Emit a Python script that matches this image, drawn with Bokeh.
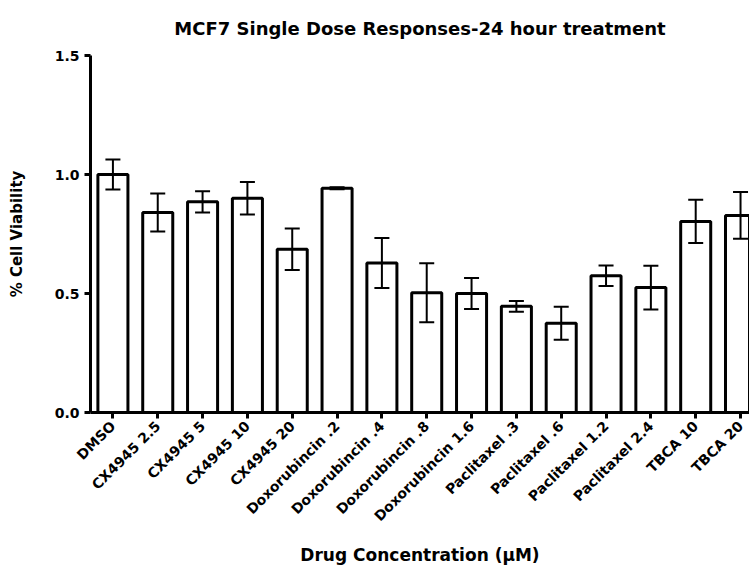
import math

from bokeh.embed import file_html
from bokeh.models import (ColumnDataSource, FixedTicker, PrintfTickFormatter,
                          Range1d, TeeHead, Whisker)
from bokeh.plotting import figure
from bokeh.resources import INLINE

# Treatments (x categories)
categories = [
    "DMSO", "CX4945 2.5", "CX4945 5", "CX4945 10", "CX4945 20",
    "Doxorubincin .2", "Doxorubincin .4", "Doxorubincin .8", "Doxorubincin 1.6",
    "Paclitaxel .3", "Paclitaxel .6", "Paclitaxel 1.2", "Paclitaxel 2.4",
    "TBCA 10", "TBCA 20",
]

# Mean viability relative to DMSO
viability = [1.00, 0.84, 0.885, 0.90, 0.686, 0.942, 0.628, 0.503, 0.50,
             0.446, 0.375, 0.575, 0.525, 0.803, 0.828]

# Error (SEM) of each mean
sem = [0.063, 0.080, 0.045, 0.068, 0.087, 0.004, 0.105, 0.124, 0.065,
       0.023, 0.069, 0.043, 0.092, 0.091, 0.098]

y_ticks = [0.0, 0.5, 1.0, 1.5]

FONT = "DejaVu Sans"

xs = list(range(len(categories)))
source = ColumnDataSource(data=dict(
    x=xs,
    top=viability,
    upper=[v + e for v, e in zip(viability, sem)],
    lower=[v - e for v, e in zip(viability, sem)],
))

p = figure(
    width=749, height=567,
    x_range=Range1d(-0.5, 14.2), y_range=Range1d(0, 1.5),
    output_backend="svg", toolbar_location=None,
    min_border_left=90, min_border_right=0,
    min_border_top=55, min_border_bottom=152,
    title="MCF7 Single Dose Responses-24 hour treatment",
)

p.title.text_font = FONT
p.title.text_font_size = "18px"
p.title.text_font_style = "bold"
p.title.text_color = "black"
p.title.align = "center"
p.title.offset = 7
p.title.standoff = 30
p.title.vertical_align = "top"

p.outline_line_color = None
p.xgrid.grid_line_color = None
p.ygrid.grid_line_color = None
p.background_fill_color = "white"
p.border_fill_color = "white"

p.vbar(x="x", top="top", width=0.67, bottom=0, source=source,
       fill_color="white", line_color="black", line_width=3)

whisker = Whisker(
    base="x", upper="upper", lower="lower", source=source,
    dimension="height", line_color="black", line_width=2, level="overlay",
    upper_head=TeeHead(size=15, line_width=2, line_color="black"),
    lower_head=TeeHead(size=15, line_width=2, line_color="black"),
)
p.add_layout(whisker)

# x axis
xa = p.xaxis[0]
xa.ticker = FixedTicker(ticks=xs)
xa.major_label_overrides = {i: c for i, c in enumerate(categories)}
xa.major_label_orientation = math.pi / 4
xa.axis_label = "Drug Concentration (µM)"

# y axis
ya = p.yaxis[0]
ya.ticker = FixedTicker(ticks=y_ticks)
ya.formatter = PrintfTickFormatter(format="%.1f")
ya.axis_label = "% Cell Viability"

for ax in (xa, ya):
    ax.axis_line_width = 3
    ax.axis_line_color = "black"
    ax.major_tick_line_width = 3
    ax.major_tick_line_color = "black"
    ax.major_tick_out = 6
    ax.major_tick_in = 0
    ax.minor_tick_line_color = None
    ax.major_label_text_font = FONT
    ax.major_label_text_font_style = "bold"
    ax.major_label_text_font_size = "14px"
    ax.major_label_text_color = "black"
    ax.major_label_standoff = 5
    ax.axis_label_text_font = FONT
    ax.axis_label_text_font_style = "bold"
    ax.axis_label_text_color = "black"

xa.axis_label_text_font_size = "17px"
xa.axis_label_standoff = 12
ya.axis_label_text_font_size = "15px"
ya.axis_label_standoff = 26

open("out.html", "w").write(file_html(p, INLINE))
